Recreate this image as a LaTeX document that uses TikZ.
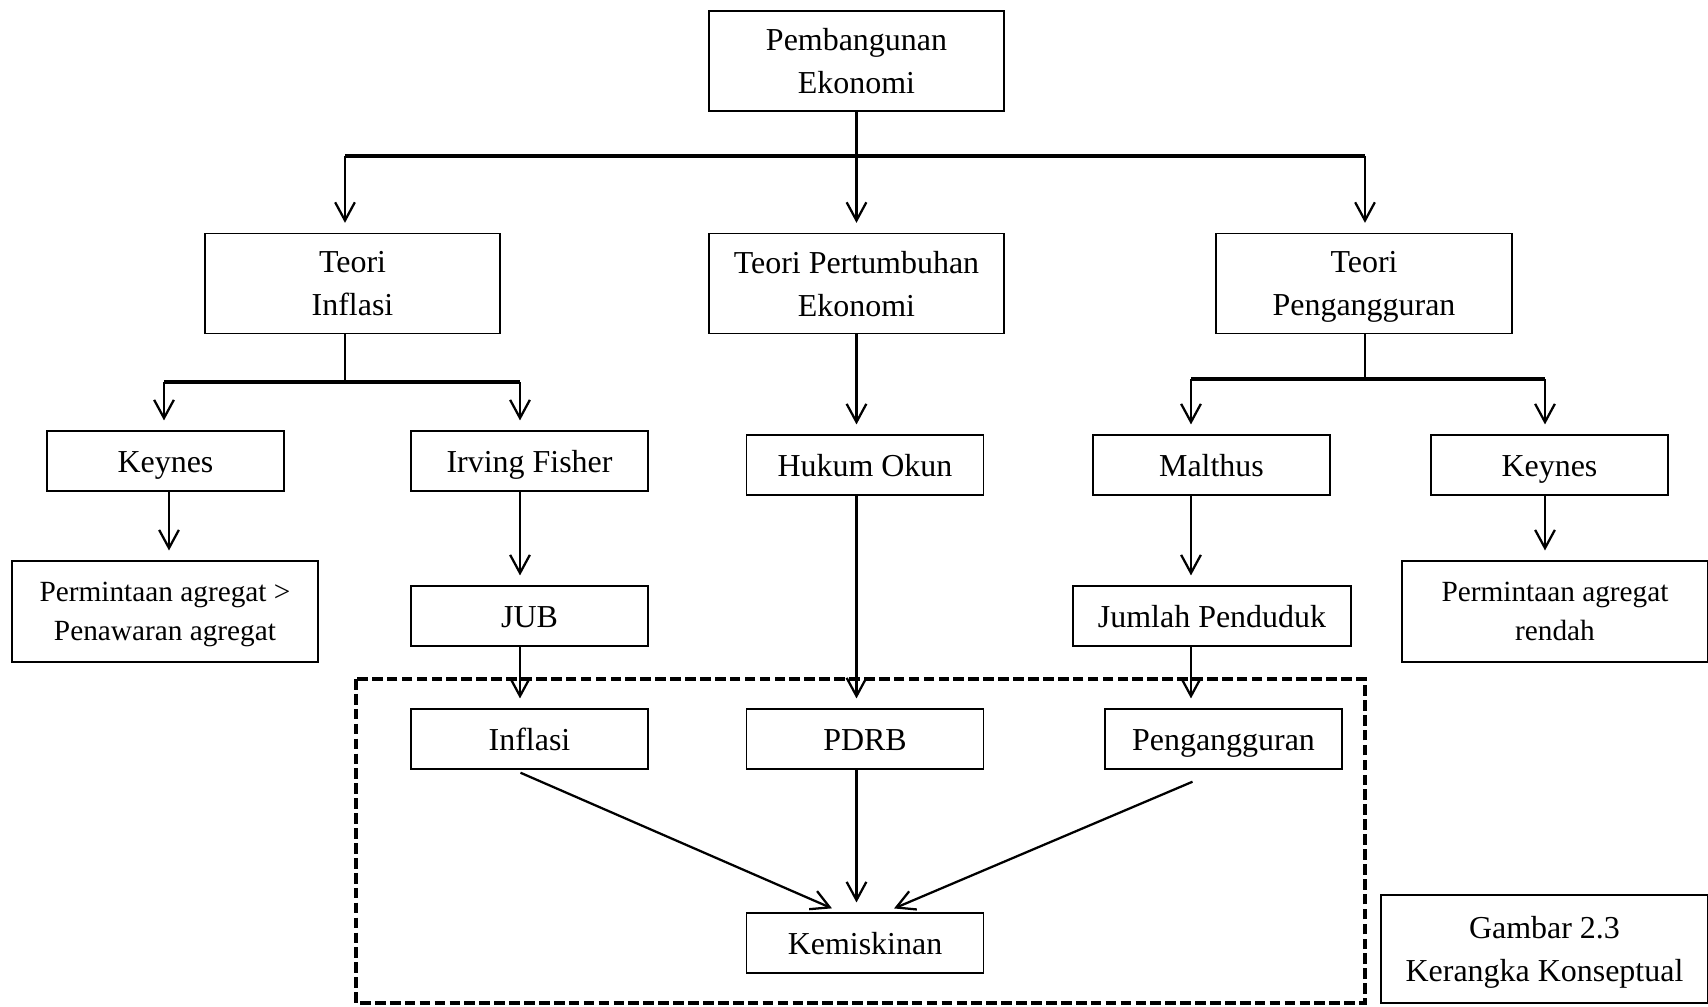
\documentclass[tikz,border=0pt]{standalone}
\usepackage{fontspec}
\setmainfont{Liberation Serif}
\usetikzlibrary{arrows.meta,calc}
\tikzset{
  box/.style={draw,line width=0.6pt,align=center,inner sep=2pt,text depth=0pt,font=\fontsize{12}{16.2}\selectfont},
  bigbox/.style={box,minimum width=3.89cm,minimum height=1.32cm},
  smbox/.style={box,minimum width=3.13cm,minimum height=0.79cm,text height=2.2ex,text depth=0.25ex},
  resbox/.style={box,minimum width=4.04cm,minimum height=1.33cm,font=\fontsize{11}{14.6}\selectfont},
  ar/.style={-{Straight Barb[length=2.4mm,width=2.6mm]},line width=0.85pt,shorten >=1.3mm},
  ln/.style={line width=0.85pt},
  br/.style={line width=1.3pt},
  dbox/.style={line width=1.5pt,dash pattern=on 4pt off 1.6pt}
}
\begin{document}
\begin{tikzpicture}[x=0.0132cm,y=-0.0132cm]
\useasboundingbox (0,0) rectangle (1708,1006);
% levels
\node[bigbox] (pe) at (856.5,61) {Pembangunan\\Ekonomi};
\node[bigbox] (ti) at (352.5,283.5) {Teori\\Inflasi};
\node[bigbox] (tp) at (856.5,283.5) {Teori Pertumbuhan\\Ekonomi};
\node[bigbox,minimum width=3.91cm] (tg) at (1364,283.5) {Teori\\Pengangguran};
\node[smbox] (k1) at (165.5,461) {Keynes};
\node[smbox] (fi) at (529.5,461) {Irving Fisher};
\node[smbox] (ho) at (865,465) {Hukum Okun};
\node[smbox] (ma) at (1211.5,465) {Malthus};
\node[smbox] (k2) at (1549.5,465) {Keynes};
\node[resbox] (pa1) at (165,611.5) {Permintaan agregat >\\Penawaran agregat};
\node[smbox] (jub) at (529.5,616) {JUB};
\node[smbox,minimum width=3.67cm] (jp) at (1212,616) {Jumlah Penduduk};
\node[resbox] (pa2) at (1555,611.5) {Permintaan agregat\\rendah};
\node[smbox] (inf) at (529.5,739) {Inflasi};
\node[smbox] (pdrb) at (865,739) {PDRB};
\node[smbox] (png) at (1223.5,739) {Pengangguran};
\node[smbox] (kem) at (865,943) {Kemiskinan};
\node[box,minimum width=4.32cm,minimum height=1.43cm] (gb) at (1544.5,949) {Gambar 2.3\\Kerangka Konseptual};
\draw[dbox] (356,679) rectangle (1365,1003);
% branch points
\coordinate (ja) at (345,156); \coordinate (jb) at (1365,156);
\coordinate (ka) at (164,382); \coordinate (kb) at (520,382);
\coordinate (ma1) at (1191,379); \coordinate (ma2) at (1545,379);
% top
\draw[br] (ja) -- (jb);
\draw[ar] (pe.south) -- (pe.south |- tp.north);
\draw[ar] (ja) -- (ja |- ti.north);
\draw[ar] (jb) -- (jb |- tg.north);
% inflasi side
\draw[ln] (ti.south -| ja) -- (ja |- ka);
\draw[br] (ka) -- (kb);
\draw[ar] (ka) -- (ka |- k1.north);
\draw[ar] (kb) -- (kb |- fi.north);
\draw[ar] ($(k1.south)+(3.5,0)$) -- ($(k1.south |- pa1.north)+(3.5,0)$);
\draw[ar] (fi.south -| kb) -- (kb |- jub.north);
\draw[ar] (jub.south -| kb) -- (kb |- inf.north);
% pertumbuhan
\draw[ar] (tp.south) -- (tp.south |- ho.north);
\draw[ar] (ho.south -| pe.south) -- (pe.south |- pdrb.north);
% pengangguran side
\draw[ln] (tg.south -| jb) -- (jb |- ma1);
\draw[br] (ma1) -- (ma2);
\draw[ar] (ma1) -- (ma1 |- ma.north);
\draw[ar] (ma2) -- (ma2 |- k2.north);
\draw[ar] (ma.south -| ma1) -- (ma1 |- jp.north);
\draw[ar] (k2.south -| ma2) -- (ma2 |- pa2.north);
\draw[ar] (jp.south -| ma1) -- (ma1 |- png.north);
% to kemiskinan
\draw[ar] ($(inf.south)+(-9,3)$) -- ($(kem.north)+(-24,0)$);
\draw[ar] (pdrb.south -| pe.south) -- (pe.south |- kem.north);
\draw[ar] ($(png.south)+(-31,12)$) -- ($(kem.north)+(20,0)$);
\end{tikzpicture}
\end{document}
